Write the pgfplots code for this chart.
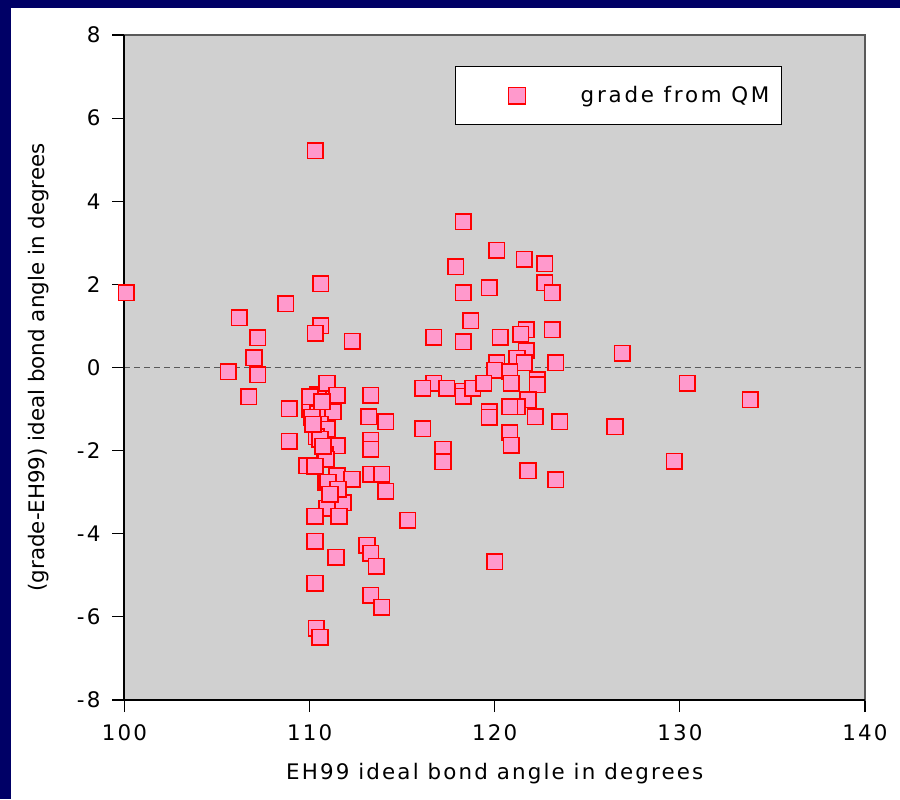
\documentclass[border=0pt]{standalone}
\usepackage{fontspec}
\setmainfont{DejaVu Sans}
\newfontfamily\wide[LetterSpace=10]{DejaVu Sans}
\newfontfamily\wider[LetterSpace=13]{DejaVu Sans}
\usepackage{pgfplots}
\pgfplotsset{compat=1.18}
\definecolor{navybg}{RGB}{0,0,102}
\definecolor{plotbg}{RGB}{208,208,208}
\definecolor{mkfill}{RGB}{255,153,204}
\definecolor{mkdraw}{RGB}{255,0,0}
\begin{document}
\begin{tikzpicture}[font=\fontsize{10.7}{12.8}\selectfont, x=1pt, y=1pt]
% background: 1px = 0.5pt; axis lower-left at (62.25pt, 49.5pt)
\fill[navybg] (-62.25,-49.5) rectangle (387.75,350);
\fill[white] (-56.75,-49.5) rectangle (387.75,346);
\begin{axis}[
  at={(0pt,0pt)}, anchor=south west,
  scale only axis, width=370.25pt, height=332.5pt,
  xmin=100, xmax=140, ymin=-8, ymax=8,
  xtick={100,110,...,140}, ytick={-8,-6,...,8},
  axis background/.style={fill=plotbg},
  axis line style={draw=gray!70!black, line width=0.6pt},
  tick align=outside, tick pos=left,
  major tick length=6pt,
  tick style={black, line width=0.6pt},
  /pgf/number format/assume math mode=true,
  xticklabel style={font=\wide\fontsize{10.7}{12.8}\selectfont, yshift=-3pt},
  yticklabel style={font=\wide\fontsize{10.7}{12.8}\selectfont, xshift=-2.5pt},
  xlabel={\wide EH99 ideal bond angle in degrees},
  ylabel={(grade-EH99) ideal bond angle in degrees},
  every axis x label/.style={at={(axis description cs:0.5,-0.1113)}, anchor=center},
  every axis y label/.style={at={(axis description cs:-0.1154,0.5)}, anchor=center, rotate=90},
  legend style={at={(0.888,0.9534)}, anchor=north east, draw=black, line width=0.6pt,
    fill=white, inner xsep=4pt, inner ysep=7.75pt, font=\wider\fontsize{10.7}{12.8}\selectfont},
  legend image code/.code={\path (0pt,0pt) (56pt,0pt); \draw[#1, mark size=4.2pt] plot coordinates {(26.5pt,0pt)};},
  clip=false,
]
\addplot[black!65, dash pattern=on 3pt off 2pt, line width=0.7pt, forget plot] coordinates {(100,0) (140,0)};
\addplot[only marks, mark=square*, mark size=3.9pt,
  mark options={fill=mkfill, draw=mkdraw, line width=0.8pt}] coordinates {
(100.1,1.80) (105.6,-0.10) (106.2,1.20) (106.7,-0.70) (107.0,0.24) (107.2,0.72)
(107.2,-0.17) (108.7,1.54) (108.9,-0.99) (108.9,-1.78) (110.3,5.22) (110.6,2.02)
(110.6,1.01) (110.3,0.82) (112.3,0.63)
(110.13,-0.72) (110.45,-0.65) (110.94,-0.38) (111.48,-0.67) (110.02,-1.01) (110.45,-1.11)
(110.94,-1.08) (111.26,-1.06) (110.13,-1.20) (110.56,-1.37) (110.94,-1.49) (110.35,-1.66)
(110.56,-1.73) (111.48,-1.88) (110.83,-2.09) (110.89,-2.21) (109.86,-2.36) (110.29,-2.38)
(111.48,-2.60) (112.29,-2.69) (110.89,-2.76) (111.10,-2.93) (111.37,-3.10) (111.80,-3.25)
(110.94,-3.39) (110.29,-3.58) (111.59,-3.58) (110.29,-4.18) (111.43,-4.57) (110.29,-5.19)
(110.35,-6.27) (110.56,-6.49) (110.18,-1.37) (110.72,-1.90) (110.99,-2.76) (111.53,-2.93)
(111.10,-3.05) (110.02,-0.70) (110.67,-0.82)
(113.3,-0.67) (113.2,-1.18) (114.1,-1.30) (113.3,-1.75) (113.3,-1.97) (113.3,-2.57)
(113.9,-2.57) (114.1,-2.98) (115.3,-3.68) (113.1,-4.28) (113.3,-4.47) (113.6,-4.78)
(113.3,-5.48) (113.9,-5.77)
(118.3,3.51) (120.1,2.82) (117.9,2.43) (121.6,2.60) (122.7,2.50) (122.7,2.04)
(123.1,1.80) (118.3,1.80) (119.7,1.92) (118.7,1.13) (116.7,0.73) (118.3,0.62)
(120.3,0.73) (121.7,0.91) (121.4,0.80) (123.1,0.91) (121.7,0.40) (123.3,0.12)
(121.2,0.22) (121.6,0.12) (120.1,0.12) (120.0,-0.07) (120.8,-0.10) (122.3,-0.29)
(122.3,-0.41) (120.9,-0.38) (116.7,-0.38) (116.1,-0.50) (117.4,-0.50) (118.3,-0.57)
(118.3,-0.69) (118.8,-0.50) (119.4,-0.38) (121.8,-0.77) (121.2,-0.94) (120.8,-0.94)
(119.7,-1.06) (119.7,-1.20) (122.2,-1.18) (123.5,-1.30) (116.1,-1.47) (120.8,-1.57)
(120.9,-1.87) (117.2,-1.97) (117.2,-2.27) (121.8,-2.48) (123.3,-2.70) (120.0,-4.67)
(126.9,0.34) (130.4,-0.38) (126.5,-1.42) (129.7,-2.26) (133.8,-0.77)
};
\addlegendentry{grade from QM}
\draw[black, line width=1pt] (rel axis cs:0,1) -- (rel axis cs:0,0) -- (rel axis cs:1,0);
\end{axis}
\end{tikzpicture}
\end{document}
